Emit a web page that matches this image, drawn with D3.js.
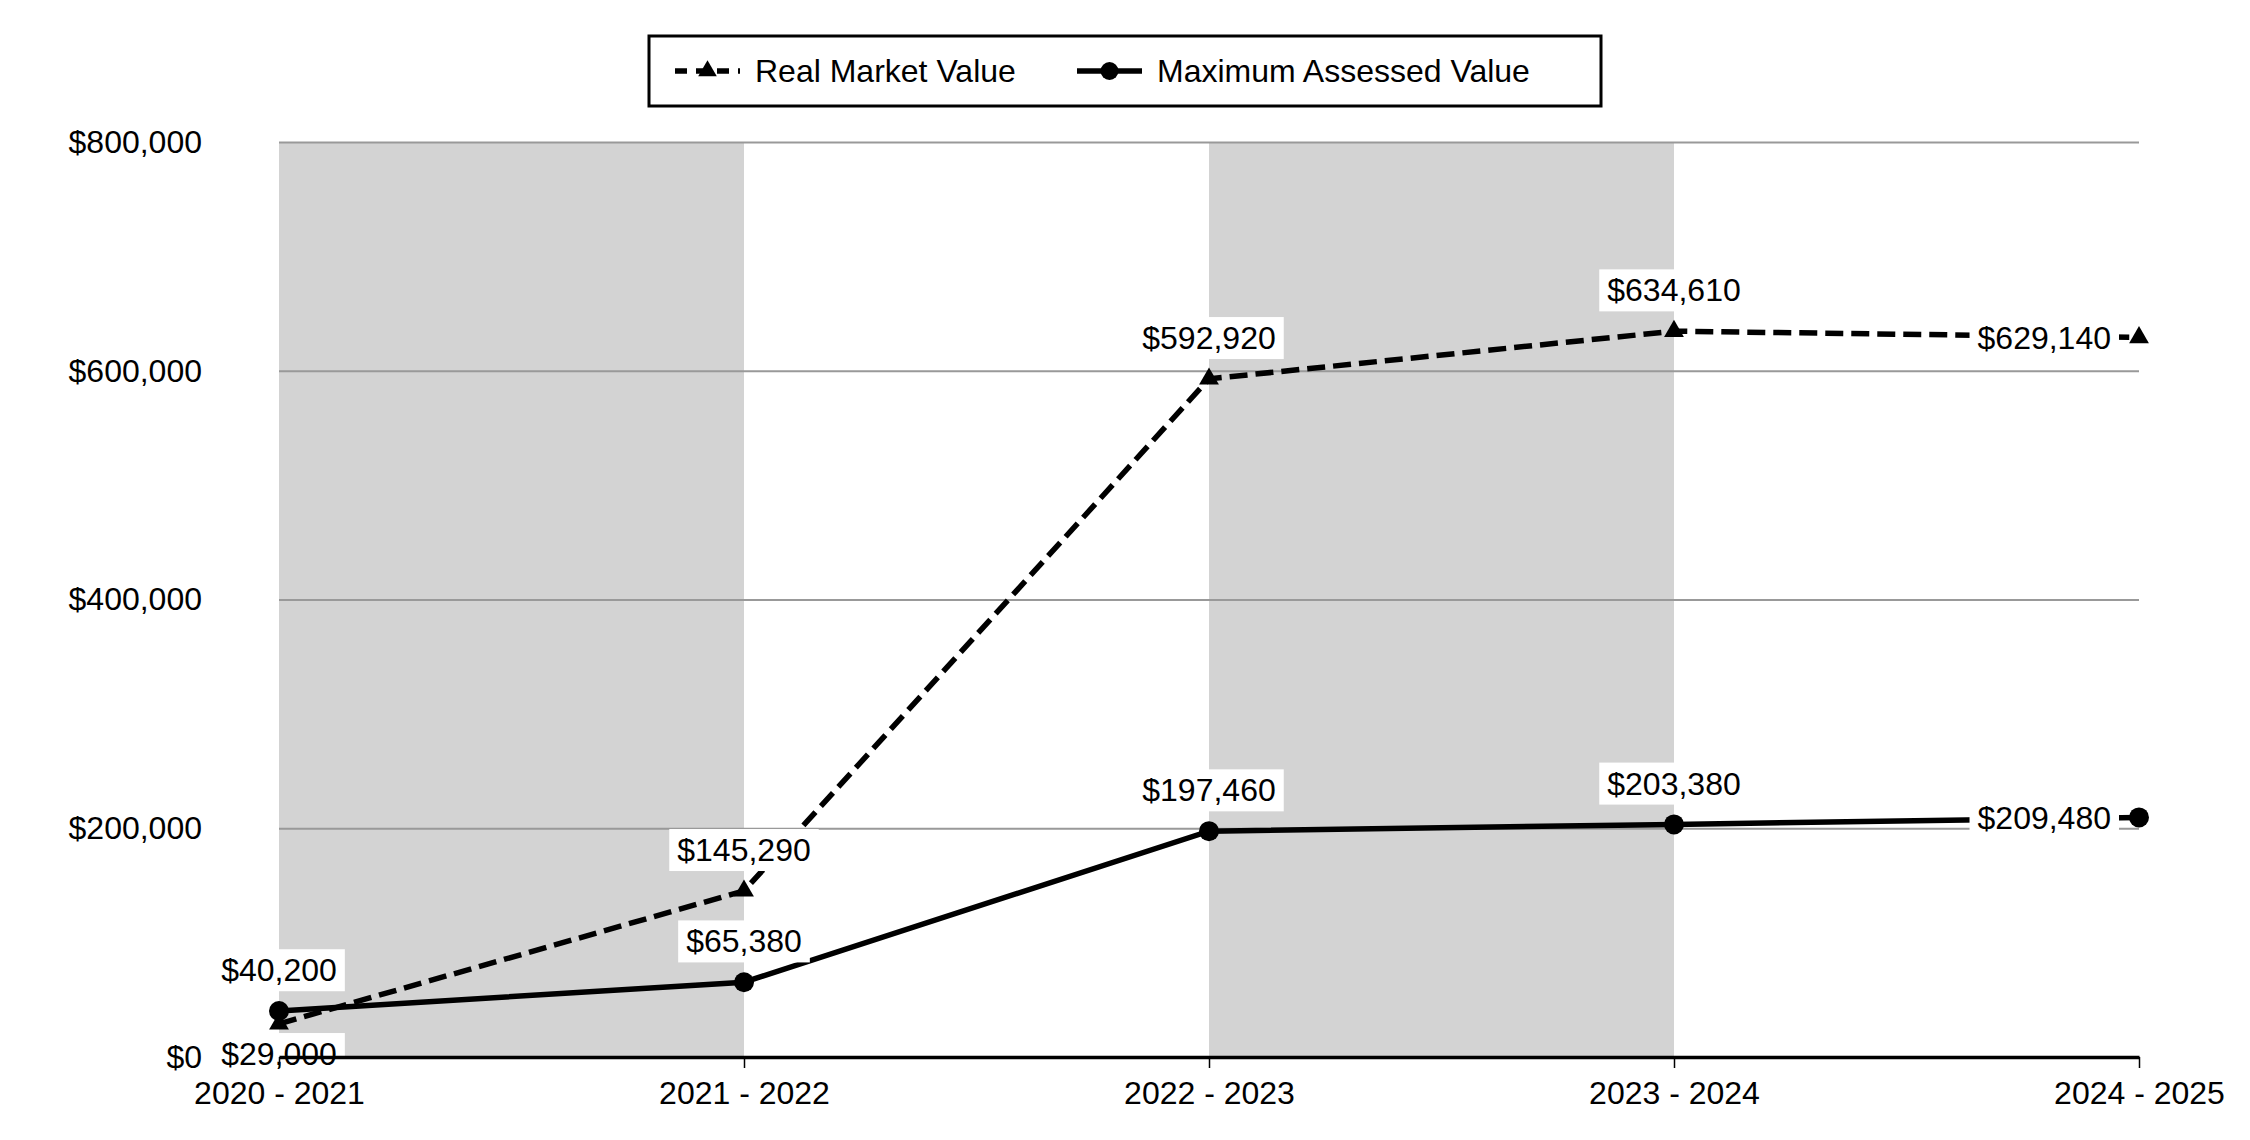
<!DOCTYPE html>
<html>
<head>
<meta charset="utf-8">
<script src="https://cdn.jsdelivr.net/npm/d3@7"></script>
<style>
  body { margin: 0; background: #fff; }
  text { font-family: "Liberation Sans", Arial, sans-serif; }
</style>
</head>
<body>
<div id="container"></div>
<script>
    // Chart data
    const categories = ["2020 - 2021", "2021 - 2022", "2022 - 2023", "2023 - 2024", "2024 - 2025"];
    const realMarketValue = [29000, 145290, 592920, 634610, 629140];
    const maxAssessedValue = [40200, 65380, 197460, 203380, 209480];
    const yTicks = [0, 200000, 400000, 600000, 800000];
    const seriesNames = ["Real Market Value", "Maximum Assessed Value"];

    const width = 2250, height = 1140;
    const plotLeft = 279, plotRight = 2139, plotTop = 142, plotBottom = 1057;
    const fontSize = 32;

    const svg = d3.select("#container")
                    .append("svg")
                    .attr("width", width)
                    .attr("height", height);

    // Scales
    const x = d3.scalePoint().domain(categories).range([plotLeft, plotRight]);
    const y = d3.scaleLinear().domain([0, 800000]).range([plotBottom, plotTop]);
    const money = d => "$" + d3.format(",")(d);

    // Shaded bands between every other pair of categories
    const bands = categories.slice(0, -1).filter((d, i) => i % 2 === 0);
    svg.selectAll(".band")
        .data(bands)
        .enter()
        .append("rect")
        .attr("x", d => x(d))
        .attr("y", plotTop)
        .attr("width", x.step())
        .attr("height", plotBottom - plotTop)
        .attr("fill", "#d3d3d3");

    // Y axis with gridlines
    const yAxis = svg.append("g")
        .attr("transform", "translate(" + plotLeft + ",0)")
        .call(d3.axisLeft(y)
                .tickValues(yTicks)
                .tickSizeInner(-(plotRight - plotLeft))
                .tickSizeOuter(0)
                .tickPadding(77)
                .tickFormat(money));
    yAxis.select(".domain").remove();
    yAxis.selectAll("line").attr("stroke", "#999").attr("stroke-width", 2);
    yAxis.selectAll("text").attr("font-size", fontSize).attr("fill", "#000")
        .style("font-family", "'Liberation Sans', Arial, sans-serif");

    // Lines
    const series = [
        { name: seriesNames[0], values: realMarketValue, dash: "18,8", symbol: d3.symbolTriangle },
        { name: seriesNames[1], values: maxAssessedValue, dash: null, symbol: d3.symbolCircle }
    ];

    const line = d3.line()
        .x((d, i) => x(categories[i]))
        .y(d => y(d));

    series.forEach(function(s) {
        svg.append("path")
            .datum(s.values)
            .attr("fill", "none")
            .attr("stroke", "#000")
            .attr("stroke-width", 5.5)
            .attr("stroke-dasharray", s.dash)
            .attr("d", line);

        svg.selectAll(null)
            .data(s.values)
            .enter()
            .append("path")
            .attr("transform", (d, i) => "translate(" + x(categories[i]) + "," + y(d) + ")")
            .attr("d", d3.symbol().type(s.symbol).size(s.symbol === d3.symbolCircle ? 314 : 170))
            .attr("fill", "#000");
    });

    // Data labels with white boxes (first series goes under the point where it is the lower one)
    series.forEach(function(s, si) {
        const other = series[1 - si].values;
        s.values.forEach(function(v, i) {
            const px = x(categories[i]), py = y(v);
            let tx = px, ty = py - 41, anchor = "middle";
            if (i === categories.length - 1) {
                tx = px - 28; ty = py; anchor = "end";
            } else if (si === 0 && v < other[i]) {
                ty = py + 30;
            }
            const g = svg.append("g");
            const t = g.append("text")
                .attr("x", tx)
                .attr("y", ty)
                .attr("dy", "0.35em")
                .attr("text-anchor", anchor)
                .attr("font-size", fontSize)
                .text(money(v));
            const b = t.node().getBBox();
            g.insert("rect", "text")
                .attr("x", b.x - 8)
                .attr("y", b.y - 3)
                .attr("width", b.width + 16)
                .attr("height", b.height + 6)
                .attr("fill", "#fff");
        });
    });

    // X axis
    const xAxis = svg.append("g")
        .attr("transform", "translate(0," + plotBottom + ")")
        .call(d3.axisBottom(x).tickSizeInner(11).tickSizeOuter(0).tickPadding(13));
    xAxis.select(".domain").attr("stroke", "#000").attr("stroke-width", 3.5);
    xAxis.selectAll("line").attr("stroke", "#000").attr("stroke-width", 1.5);
    xAxis.selectAll("text").attr("font-size", fontSize).attr("fill", "#000")
        .style("font-family", "'Liberation Sans', Arial, sans-serif");

    // Legend
    const legend = svg.append("g");
    legend.append("rect")
        .attr("x", 649).attr("y", 36)
        .attr("width", 952).attr("height", 70)
        .attr("fill", "#fff")
        .attr("stroke", "#000")
        .attr("stroke-width", 3);

    const legendX = [675, 1077];
    series.forEach(function(s, i) {
        const lx = legendX[i], ly = 71;
        legend.append("line")
            .attr("x1", lx).attr("x2", lx + 65)
            .attr("y1", ly).attr("y2", ly)
            .attr("stroke", "#000")
            .attr("stroke-width", 5.5)
            .attr("stroke-dasharray", s.dash ? "12,9" : null);
        legend.append("path")
            .attr("transform", "translate(" + (lx + 32.5) + "," + ly + ")")
            .attr("d", d3.symbol().type(s.symbol).size(s.symbol === d3.symbolCircle ? 254 : 150))
            .attr("fill", "#000");
        legend.append("text")
            .attr("x", lx + 80)
            .attr("y", ly)
            .attr("dy", "0.35em")
            .attr("font-size", fontSize)
            .text(s.name);
    });
</script>
</body>
</html>
